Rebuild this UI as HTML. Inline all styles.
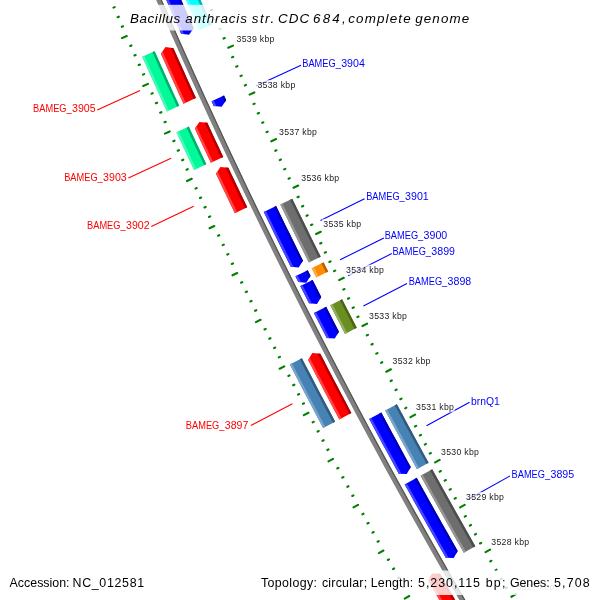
<!DOCTYPE html>
<html><head><meta charset="utf-8"><style>
html,body{margin:0;padding:0;background:#fff;}
svg{display:block;will-change:transform;}
text{font-family:"Liberation Sans",sans-serif;}
.tl{font-size:8.7px;fill:#222222;letter-spacing:0.3px;}
.ll{font-size:11.0px;fill:#ff0000;}
.lr{font-size:11.0px;fill:#0000ff;}
.title{font-size:13.4px;font-style:italic;fill:#000;}
.foot{font-size:12.4px;fill:#000;}
</style></head><body>
<svg width="600" height="600" viewBox="0 0 600 600">
<rect width="600" height="600" fill="#fff"/>
<path d="M502.06,662.34 L491.52,644.62 L481.05,626.87 L470.63,609.07 L460.28,591.25 L450.00,573.38 L439.77,555.48 L429.61,537.54 L419.52,519.57 L409.48,501.56 L399.51,483.51 L389.61,465.43 L379.76,447.32 L369.99,429.17 L360.27,410.98 L350.62,392.77 L341.04,374.51 L331.52,356.23 L322.06,337.91 L312.67,319.56 L303.34,301.17 L294.08,282.75 L284.88,264.30 L275.75,245.82 L266.68,227.31 L257.68,208.76 L248.75,190.18 L239.88,171.57 L231.07,152.93 L222.33,134.26 L213.66,115.55 L205.06,96.82 L196.52,78.06 L188.04,59.26 L179.63,40.44 L171.29,21.59 L163.02,2.70 L154.81,-16.21 L146.67,-35.15 L138.60,-54.12 L133.81,-52.09 L141.89,-33.10 L150.04,-14.15 L158.25,4.78 L166.53,23.68 L174.88,42.55 L183.30,61.39 L191.78,80.20 L200.33,98.98 L208.94,117.73 L217.62,136.45 L226.37,155.14 L235.18,173.80 L244.06,192.43 L253.00,211.02 L262.01,229.58 L271.08,248.12 L280.22,266.61 L289.43,285.08 L298.70,303.52 L308.03,321.92 L317.43,340.29 L326.90,358.62 L336.43,376.92 L346.02,395.19 L355.68,413.43 L365.40,431.63 L375.19,449.79 L385.04,467.92 L394.96,486.02 L404.94,504.08 L414.98,522.10 L425.08,540.09 L435.25,558.05 L445.49,575.97 L455.78,593.85 L466.14,611.69 L476.56,629.50 L487.05,647.27 L497.59,665.01Z" fill="#808080"/>
<path d="M502.06,662.34 L491.52,644.62 L481.05,626.87 L470.63,609.07 L460.28,591.25 L450.00,573.38 L439.77,555.48 L429.61,537.54 L419.52,519.57 L409.48,501.56 L399.51,483.51 L389.61,465.43 L379.76,447.32 L369.99,429.17 L360.27,410.98 L350.62,392.77 L341.04,374.51 L331.52,356.23 L322.06,337.91 L312.67,319.56 L303.34,301.17 L294.08,282.75 L284.88,264.30 L275.75,245.82 L266.68,227.31 L257.68,208.76 L248.75,190.18 L239.88,171.57 L231.07,152.93 L222.33,134.26 L213.66,115.55 L205.06,96.82 L196.52,78.06 L188.04,59.26 L179.63,40.44 L171.29,21.59 L163.02,2.70 L154.81,-16.21 L146.67,-35.15 L138.60,-54.12 L137.49,-53.65 L145.57,-34.68 L153.71,-15.73 L161.92,3.18 L170.20,22.07 L178.54,40.93 L186.95,59.75 L195.42,78.55 L203.96,97.32 L212.57,116.06 L221.25,134.76 L229.99,153.44 L238.79,172.08 L247.66,190.70 L256.60,209.28 L265.60,227.83 L274.67,246.35 L283.81,264.84 L293.01,283.29 L302.27,301.71 L311.60,320.10 L320.99,338.46 L330.45,356.78 L339.97,375.07 L349.56,393.33 L359.21,411.55 L368.93,429.73 L378.71,447.89 L388.55,466.01 L398.46,484.09 L408.43,502.14 L418.47,520.15 L428.57,538.13 L438.73,556.07 L448.96,573.98 L459.24,591.85 L469.60,609.68 L480.01,627.48 L490.49,645.24 L501.03,662.96Z" fill="#555555"/>
<path d="M195.94,98.05 L193.42,92.51 L190.90,86.97 L188.38,81.43 L185.88,75.89 L183.38,70.34 L180.88,64.79 L178.39,59.24 L175.91,53.69 L173.43,48.13 L165.48,47.12 L160.91,53.71 L163.40,59.28 L165.89,64.84 L168.38,70.41 L170.88,75.97 L173.39,81.53 L175.90,87.08 L178.42,92.64 L180.95,98.19 L183.48,103.74Z" fill="#ff0000"/>
<path d="M185.66,102.74 L183.07,97.05 L180.47,91.35 L177.89,85.65 L175.31,79.95 L172.74,74.25 L170.17,68.54 L167.61,62.83 L165.06,57.11 L162.51,51.40 L160.91,53.71 L163.40,59.28 L165.89,64.84 L168.38,70.41 L170.88,75.97 L173.39,81.53 L175.90,87.08 L178.42,92.64 L180.95,98.19 L183.48,103.74Z" fill="#ff4747"/>
<path d="M195.94,98.05 L193.42,92.51 L190.90,86.97 L188.38,81.43 L185.88,75.89 L183.38,70.34 L180.88,64.79 L178.39,59.24 L175.91,53.69 L173.43,48.13 L170.64,47.78 L173.19,53.49 L175.74,59.19 L178.29,64.89 L180.85,70.59 L183.42,76.29 L186.00,81.98 L188.58,87.67 L191.17,93.36 L193.76,99.04Z" fill="#b20000"/>
<path d="M223.22,156.92 L220.56,151.24 L217.90,145.57 L215.25,139.89 L212.60,134.20 L209.96,128.52 L207.33,122.83 L199.37,121.93 L194.89,128.58 L197.53,134.28 L200.18,139.98 L202.83,145.68 L205.49,151.37 L208.16,157.06 L210.83,162.75Z" fill="#ff0000"/>
<path d="M213.00,161.73 L210.62,156.66 L208.25,151.60 L205.88,146.53 L203.52,141.47 L201.16,136.39 L198.81,131.32 L196.46,126.25 L194.89,128.58 L197.53,134.28 L200.18,139.98 L202.83,145.68 L205.49,151.37 L208.16,157.06 L210.83,162.75Z" fill="#ff4747"/>
<path d="M223.22,156.92 L220.56,151.24 L217.90,145.57 L215.25,139.89 L212.60,134.20 L209.96,128.52 L207.33,122.83 L204.54,122.51 L206.88,127.58 L209.23,132.65 L211.59,137.71 L213.95,142.77 L216.31,147.83 L218.68,152.88 L221.05,157.94Z" fill="#b20000"/>
<path d="M247.18,207.25 L244.48,201.62 L241.78,196.00 L239.08,190.37 L236.39,184.73 L233.71,179.10 L231.03,173.46 L228.36,167.82 L220.39,166.98 L215.98,173.67 L218.65,179.33 L221.34,184.98 L224.03,190.63 L226.72,196.27 L229.42,201.92 L232.13,207.56 L234.84,213.19Z" fill="#ff0000"/>
<path d="M237.00,212.15 L234.20,206.33 L231.41,200.50 L228.62,194.68 L225.83,188.84 L223.06,183.01 L220.29,177.17 L217.52,171.33 L215.98,173.67 L218.65,179.33 L221.34,184.98 L224.03,190.63 L226.72,196.27 L229.42,201.92 L232.13,207.56 L234.84,213.19Z" fill="#ff4747"/>
<path d="M247.18,207.25 L244.48,201.62 L241.78,196.00 L239.08,190.37 L236.39,184.73 L233.71,179.10 L231.03,173.46 L228.36,167.82 L225.57,167.53 L228.33,173.36 L231.10,179.19 L233.87,185.02 L236.65,190.84 L239.43,196.66 L242.22,202.48 L245.02,208.29Z" fill="#b20000"/>
<path d="M351.38,413.01 L348.53,407.63 L345.68,402.25 L342.83,396.86 L339.99,391.47 L337.16,386.07 L334.33,380.68 L331.51,375.28 L328.69,369.88 L325.88,364.47 L323.07,359.07 L320.27,353.65 L312.28,353.10 L308.10,359.94 L310.91,365.37 L313.72,370.79 L316.54,376.21 L319.36,381.62 L322.19,387.03 L325.03,392.44 L327.87,397.85 L330.71,403.25 L333.57,408.65 L336.42,414.05 L339.29,419.44Z" fill="#ff0000"/>
<path d="M341.40,418.31 L338.48,412.81 L335.56,407.29 L332.65,401.78 L329.74,396.26 L326.84,390.74 L323.95,385.21 L321.06,379.69 L318.18,374.16 L315.30,368.62 L312.43,363.09 L309.57,357.55 L308.10,359.94 L310.91,365.37 L313.72,370.79 L316.54,376.21 L319.36,381.62 L322.19,387.03 L325.03,392.44 L327.87,397.85 L330.71,403.25 L333.57,408.65 L336.42,414.05 L339.29,419.44Z" fill="#ff4747"/>
<path d="M351.38,413.01 L348.53,407.63 L345.68,402.25 L342.83,396.86 L339.99,391.47 L337.16,386.07 L334.33,380.68 L331.51,375.28 L328.69,369.88 L325.88,364.47 L323.07,359.07 L320.27,353.65 L317.47,353.46 L320.33,358.99 L323.20,364.52 L326.07,370.05 L328.95,375.57 L331.84,381.09 L334.73,386.60 L337.62,392.12 L340.52,397.63 L343.43,403.13 L346.34,408.64 L349.26,414.14Z" fill="#b20000"/>
<path d="M481.24,644.52 L478.04,639.10 L474.84,633.68 L471.65,628.25 L468.47,622.82 L465.30,617.39 L462.12,611.95 L458.96,606.51 L455.80,601.07 L452.65,595.62 L449.50,590.17 L446.36,584.72 L443.22,579.26 L440.09,573.80 L432.08,573.59 L428.20,580.60 L431.34,586.08 L434.48,591.55 L437.63,597.01 L440.79,602.48 L443.95,607.94 L447.11,613.39 L450.29,618.85 L453.46,624.30 L456.65,629.74 L459.84,635.19 L463.03,640.63 L466.23,646.06 L469.44,651.49Z" fill="#ff0000"/>
<path d="M471.51,650.27 L468.25,644.75 L464.99,639.22 L461.74,633.68 L458.49,628.14 L455.25,622.60 L452.02,617.06 L448.79,611.51 L445.57,605.96 L442.36,600.40 L439.15,594.84 L435.95,589.28 L432.75,583.71 L429.56,578.15 L428.20,580.60 L431.34,586.08 L434.48,591.55 L437.63,597.01 L440.79,602.48 L443.95,607.94 L447.11,613.39 L450.29,618.85 L453.46,624.30 L456.65,629.74 L459.84,635.19 L463.03,640.63 L466.23,646.06 L469.44,651.49Z" fill="#ff4747"/>
<path d="M481.24,644.52 L478.04,639.10 L474.84,633.68 L471.65,628.25 L468.47,622.82 L465.30,617.39 L462.12,611.95 L458.96,606.51 L455.80,601.07 L452.65,595.62 L449.50,590.17 L446.36,584.72 L443.22,579.26 L440.09,573.80 L437.29,573.73 L440.47,579.29 L443.66,584.84 L446.86,590.40 L450.07,595.95 L453.28,601.50 L456.49,607.04 L459.71,612.58 L462.94,618.12 L466.17,623.65 L469.41,629.18 L472.66,634.70 L475.91,640.23 L479.17,645.74Z" fill="#b20000"/>
<path d="M179.25,105.79 L176.76,100.33 L174.28,94.88 L171.80,89.42 L169.33,83.96 L166.87,78.50 L164.41,73.03 L161.95,67.56 L159.51,62.09 L157.06,56.62 L154.63,51.15 L142.20,56.67 L144.64,62.16 L147.09,67.64 L149.54,73.13 L152.00,78.61 L154.47,84.08 L156.94,89.56 L159.41,95.03 L161.90,100.50 L164.38,105.97 L166.88,111.44Z" fill="#00fa9a"/>
<path d="M169.06,110.44 L166.57,104.98 L164.08,99.51 L161.60,94.04 L159.13,88.57 L156.66,83.10 L154.19,77.62 L151.73,72.14 L149.28,66.66 L146.83,61.18 L144.39,55.69 L142.20,56.67 L144.64,62.16 L147.09,67.64 L149.54,73.13 L152.00,78.61 L154.47,84.08 L156.94,89.56 L159.41,95.03 L161.90,100.50 L164.38,105.97 L166.88,111.44Z" fill="#47fbb6"/>
<path d="M179.25,105.79 L176.76,100.33 L174.28,94.88 L171.80,89.42 L169.33,83.96 L166.87,78.50 L164.41,73.03 L161.95,67.56 L159.51,62.09 L157.06,56.62 L154.63,51.15 L152.43,52.12 L154.87,57.60 L157.32,63.07 L159.76,68.55 L162.22,74.02 L164.68,79.48 L167.15,84.95 L169.62,90.41 L172.09,95.87 L174.58,101.33 L177.06,106.78Z" fill="#00af6c"/>
<path d="M206.31,164.18 L203.79,158.82 L201.28,153.46 L198.78,148.10 L196.28,142.73 L193.79,137.37 L191.30,132.00 L188.81,126.62 L176.47,132.32 L178.95,137.71 L181.45,143.09 L183.95,148.47 L186.45,153.85 L188.96,159.22 L191.48,164.60 L194.00,169.97Z" fill="#00fa9a"/>
<path d="M196.17,168.94 L193.65,163.58 L191.14,158.21 L188.63,152.83 L186.12,147.46 L183.63,142.08 L181.13,136.70 L178.65,131.32 L176.47,132.32 L178.95,137.71 L181.45,143.09 L183.95,148.47 L186.45,153.85 L188.96,159.22 L191.48,164.60 L194.00,169.97Z" fill="#47fbb6"/>
<path d="M206.31,164.18 L203.79,158.82 L201.28,153.46 L198.78,148.10 L196.28,142.73 L193.79,137.37 L191.30,132.00 L188.81,126.62 L186.64,127.63 L189.12,133.00 L191.61,138.38 L194.10,143.75 L196.60,149.11 L199.11,154.48 L201.62,159.84 L204.13,165.20Z" fill="#00af6c"/>
<path d="M335.14,421.65 L332.34,416.37 L329.54,411.09 L326.75,405.81 L323.97,400.53 L321.19,395.25 L318.42,389.96 L315.65,384.67 L312.89,379.37 L310.13,374.07 L307.38,368.77 L304.64,363.47 L301.90,358.17 L289.81,364.40 L292.56,369.72 L295.31,375.03 L298.07,380.35 L300.83,385.66 L303.60,390.96 L306.37,396.27 L309.15,401.57 L311.93,406.86 L314.72,412.16 L317.52,417.45 L320.32,422.74 L323.13,428.03Z" fill="#4682b4"/>
<path d="M325.24,426.90 L322.44,421.62 L319.64,416.33 L316.85,411.04 L314.06,405.75 L311.27,400.45 L308.50,395.15 L305.72,389.85 L302.96,384.55 L300.19,379.24 L297.44,373.93 L294.69,368.62 L291.94,363.30 L289.81,364.40 L292.56,369.72 L295.31,375.03 L298.07,380.35 L300.83,385.66 L303.60,390.96 L306.37,396.27 L309.15,401.57 L311.93,406.86 L314.72,412.16 L317.52,417.45 L320.32,422.74 L323.13,428.03Z" fill="#7aa5c9"/>
<path d="M335.14,421.65 L332.34,416.37 L329.54,411.09 L326.75,405.81 L323.97,400.53 L321.19,395.25 L318.42,389.96 L315.65,384.67 L312.89,379.37 L310.13,374.07 L307.38,368.77 L304.64,363.47 L301.90,358.17 L299.76,359.27 L302.50,364.57 L305.25,369.88 L308.00,375.18 L310.76,380.48 L313.52,385.78 L316.29,391.07 L319.07,396.36 L321.85,401.65 L324.63,406.93 L327.42,412.22 L330.22,417.50 L333.02,422.77Z" fill="#315b7e"/>
<path d="M193.65,28.14 L191.19,22.59 L188.74,17.03 L186.29,11.47 L183.85,5.90 L181.41,0.34 L178.98,-5.23 L176.55,-10.80 L174.13,-16.38 L171.72,-21.95 L169.31,-27.53 L166.91,-33.11 L164.51,-38.70 L162.12,-44.29 L159.74,-49.87 L157.36,-55.47 L154.99,-61.06 L142.37,-55.72 L144.75,-50.11 L147.13,-44.50 L149.52,-38.90 L151.92,-33.30 L154.32,-27.71 L156.73,-22.11 L159.14,-16.52 L161.56,-10.93 L163.99,-5.34 L166.42,0.24 L168.86,5.82 L171.30,11.40 L173.75,16.98 L176.20,22.55 L178.66,28.13 L181.13,33.70 L189.07,34.70Z" fill="#0000ff"/>
<path d="M183.91,34.05 L181.41,28.40 L178.91,22.75 L176.42,17.09 L173.93,11.44 L171.45,5.78 L168.98,0.11 L166.51,-5.55 L164.05,-11.22 L161.60,-16.89 L159.15,-22.56 L156.71,-28.24 L154.27,-33.91 L151.84,-39.60 L149.41,-45.28 L146.99,-50.96 L144.58,-56.65 L142.37,-55.72 L144.75,-50.11 L147.13,-44.50 L149.52,-38.90 L151.92,-33.30 L154.32,-27.71 L156.73,-22.11 L159.14,-16.52 L161.56,-10.93 L163.99,-5.34 L166.42,0.24 L168.86,5.82 L171.30,11.40 L173.75,16.98 L176.20,22.55 L178.66,28.13 L181.13,33.70Z" fill="#4747ff"/>
<path d="M193.65,28.14 L191.19,22.59 L188.74,17.03 L186.29,11.47 L183.85,5.90 L181.41,0.34 L178.98,-5.23 L176.55,-10.80 L174.13,-16.38 L171.72,-21.95 L169.31,-27.53 L166.91,-33.11 L164.51,-38.70 L162.12,-44.29 L159.74,-49.87 L157.36,-55.47 L154.99,-61.06 L152.78,-60.12 L155.19,-54.44 L157.60,-48.77 L160.02,-43.09 L162.45,-37.42 L164.88,-31.75 L167.32,-26.08 L169.77,-20.42 L172.22,-14.76 L174.68,-9.10 L177.14,-3.44 L179.61,2.21 L182.08,7.86 L184.57,13.51 L187.05,19.16 L189.55,24.80 L192.04,30.44Z" fill="#0000b2"/>
<path d="M226.17,100.16 L224.05,95.55 L211.60,101.27 L213.72,105.88 L221.68,106.78Z" fill="#0000ff"/>
<path d="M216.51,106.20 L215.14,103.23 L213.78,100.26 L211.60,101.27 L213.72,105.88Z" fill="#4747ff"/>
<path d="M226.17,100.16 L224.05,95.55 L221.87,96.55 L223.23,99.52 L224.59,102.48Z" fill="#0000b2"/>
<path d="M302.98,260.73 L300.26,255.26 L297.56,249.79 L294.85,244.32 L292.16,238.85 L289.47,233.37 L286.78,227.89 L284.10,222.41 L281.43,216.92 L278.76,211.44 L276.09,205.94 L263.76,211.92 L266.43,217.42 L269.11,222.92 L271.79,228.42 L274.47,233.91 L277.17,239.41 L279.86,244.90 L282.57,250.38 L285.28,255.87 L287.99,261.35 L290.71,266.83 L298.69,267.48Z" fill="#0000ff"/>
<path d="M293.51,267.06 L290.72,261.45 L287.94,255.84 L285.17,250.23 L282.40,244.62 L279.64,239.00 L276.89,233.38 L274.14,227.76 L271.39,222.13 L268.66,216.50 L265.92,210.87 L263.76,211.92 L266.43,217.42 L269.11,222.92 L271.79,228.42 L274.47,233.91 L277.17,239.41 L279.86,244.90 L282.57,250.38 L285.28,255.87 L287.99,261.35 L290.71,266.83Z" fill="#4747ff"/>
<path d="M302.98,260.73 L300.26,255.26 L297.56,249.79 L294.85,244.32 L292.16,238.85 L289.47,233.37 L286.78,227.89 L284.10,222.41 L281.43,216.92 L278.76,211.44 L276.09,205.94 L273.93,206.99 L276.66,212.61 L279.39,218.23 L282.13,223.85 L284.88,229.47 L287.63,235.08 L290.39,240.69 L293.15,246.29 L295.92,251.90 L298.69,257.50 L301.48,263.09Z" fill="#0000b2"/>
<path d="M310.53,275.86 L307.71,270.21 L295.45,276.34 L298.28,281.99 L306.26,282.63Z" fill="#0000ff"/>
<path d="M301.08,282.22 L299.34,278.74 L297.60,275.26 L295.45,276.34 L298.28,281.99Z" fill="#4747ff"/>
<path d="M310.53,275.86 L307.71,270.21 L305.56,271.29 L307.30,274.76 L309.03,278.23Z" fill="#0000b2"/>
<path d="M321.23,297.10 L318.33,291.36 L315.43,285.62 L312.55,279.88 L300.30,286.02 L303.20,291.78 L306.10,297.54 L309.00,303.29 L316.99,303.89Z" fill="#0000ff"/>
<path d="M311.80,303.50 L309.46,298.87 L307.12,294.23 L304.78,289.59 L302.45,284.95 L300.30,286.02 L303.20,291.78 L306.10,297.54 L309.00,303.29Z" fill="#4747ff"/>
<path d="M321.23,297.10 L318.33,291.36 L315.43,285.62 L312.55,279.88 L310.40,280.95 L312.73,285.59 L315.06,290.22 L317.40,294.85 L319.74,299.48Z" fill="#0000b2"/>
<path d="M338.93,331.79 L336.36,326.79 L333.80,321.80 L331.24,316.80 L328.69,311.79 L326.14,306.79 L313.93,313.00 L316.48,318.01 L319.04,323.03 L321.60,328.04 L324.17,333.05 L326.74,338.06 L334.73,338.61Z" fill="#0000ff"/>
<path d="M329.54,338.25 L326.84,332.99 L324.14,327.72 L321.44,322.45 L318.75,317.18 L316.07,311.91 L313.93,313.00 L316.48,318.01 L319.04,323.03 L321.60,328.04 L324.17,333.05 L326.74,338.06Z" fill="#4747ff"/>
<path d="M338.93,331.79 L336.36,326.79 L333.80,321.80 L331.24,316.80 L328.69,311.79 L326.14,306.79 L324.00,307.88 L326.68,313.14 L329.37,318.40 L332.06,323.66 L334.75,328.92 L337.46,334.18Z" fill="#0000b2"/>
<path d="M410.79,467.06 L407.81,461.63 L404.84,456.19 L401.88,450.75 L398.92,445.30 L395.97,439.86 L393.02,434.41 L390.08,428.95 L387.15,423.50 L384.22,418.04 L381.29,412.58 L369.21,419.03 L372.14,424.51 L375.08,429.98 L378.02,435.45 L380.97,440.92 L383.92,446.38 L386.88,451.84 L389.84,457.29 L392.81,462.75 L395.79,468.20 L398.77,473.65 L406.77,473.98Z" fill="#0000ff"/>
<path d="M401.57,473.76 L398.52,468.19 L395.48,462.62 L392.44,457.04 L389.40,451.46 L386.37,445.88 L383.35,440.29 L380.34,434.70 L377.33,429.10 L374.32,423.50 L371.33,417.90 L369.21,419.03 L372.14,424.51 L375.08,429.98 L378.02,435.45 L380.97,440.92 L383.92,446.38 L386.88,451.84 L389.84,457.29 L392.81,462.75 L395.79,468.20 L398.77,473.65Z" fill="#4747ff"/>
<path d="M410.79,467.06 L407.81,461.63 L404.84,456.19 L401.88,450.75 L398.92,445.30 L395.97,439.86 L393.02,434.41 L390.08,428.95 L387.15,423.50 L384.22,418.04 L381.29,412.58 L379.18,413.71 L382.17,419.30 L385.17,424.89 L388.17,430.48 L391.18,436.06 L394.20,441.64 L397.22,447.21 L400.25,452.79 L403.29,458.36 L406.33,463.92 L409.38,469.48Z" fill="#0000b2"/>
<path d="M457.67,550.93 L454.48,545.33 L451.30,539.72 L448.12,534.12 L444.95,528.51 L441.79,522.89 L438.63,517.27 L435.48,511.65 L432.34,506.02 L429.20,500.40 L426.07,494.76 L422.94,489.13 L419.83,483.49 L416.71,477.85 L404.71,484.46 L407.83,490.11 L410.96,495.77 L414.09,501.41 L417.23,507.06 L420.38,512.70 L423.53,518.34 L426.69,523.98 L429.85,529.61 L433.02,535.24 L436.20,540.86 L439.38,546.48 L442.57,552.10 L445.76,557.71 L453.77,557.92Z" fill="#0000ff"/>
<path d="M448.57,557.79 L445.55,552.49 L442.54,547.18 L439.53,541.88 L436.53,536.57 L433.53,531.25 L430.54,525.94 L427.56,520.62 L424.58,515.30 L421.60,509.97 L418.63,504.64 L415.67,499.31 L412.71,493.98 L409.76,488.64 L406.82,483.30 L404.71,484.46 L407.83,490.11 L410.96,495.77 L414.09,501.41 L417.23,507.06 L420.38,512.70 L423.53,518.34 L426.69,523.98 L429.85,529.61 L433.02,535.24 L436.20,540.86 L439.38,546.48 L442.57,552.10 L445.76,557.71Z" fill="#4747ff"/>
<path d="M457.67,550.93 L454.48,545.33 L451.30,539.72 L448.12,534.12 L444.95,528.51 L441.79,522.89 L438.63,517.27 L435.48,511.65 L432.34,506.02 L429.20,500.40 L426.07,494.76 L422.94,489.13 L419.83,483.49 L416.71,477.85 L414.61,479.00 L417.55,484.34 L420.50,489.67 L423.45,494.99 L426.41,500.32 L429.37,505.64 L432.34,510.95 L435.32,516.27 L438.30,521.58 L441.29,526.89 L444.28,532.19 L447.27,537.49 L450.28,542.79 L453.29,548.09 L456.30,553.38Z" fill="#0000b2"/>
<path d="M211.50,24.74 L208.94,18.96 L206.39,13.19 L203.84,7.41 L201.30,1.63 L198.76,-4.16 L196.23,-9.94 L193.71,-15.73 L191.19,-21.53 L188.68,-27.32 L186.18,-33.12 L183.68,-38.92 L181.19,-44.72 L178.70,-50.53 L176.22,-56.34 L173.75,-62.15 L171.29,-67.96 L159.04,-62.78 L161.51,-56.95 L163.99,-51.12 L166.47,-45.30 L168.96,-39.48 L171.46,-33.67 L173.97,-27.85 L176.48,-22.04 L178.99,-16.23 L181.51,-10.43 L184.04,-4.62 L186.58,1.18 L189.12,6.98 L191.67,12.77 L194.22,18.56 L196.78,24.35 L199.35,30.14Z" fill="#00ffff"/>
<path d="M201.54,29.16 L198.98,23.38 L196.42,17.59 L193.86,11.80 L191.32,6.01 L188.78,0.22 L186.24,-5.58 L183.72,-11.38 L181.19,-17.19 L178.68,-22.99 L176.17,-28.80 L173.67,-34.61 L171.17,-40.43 L168.68,-46.24 L166.20,-52.06 L163.72,-57.89 L161.25,-63.71 L159.04,-62.78 L161.51,-56.95 L163.99,-51.12 L166.47,-45.30 L168.96,-39.48 L171.46,-33.67 L173.97,-27.85 L176.48,-22.04 L178.99,-16.23 L181.51,-10.43 L184.04,-4.62 L186.58,1.18 L189.12,6.98 L191.67,12.77 L194.22,18.56 L196.78,24.35 L199.35,30.14Z" fill="#47ffff"/>
<path d="M211.50,24.74 L208.94,18.96 L206.39,13.19 L203.84,7.41 L201.30,1.63 L198.76,-4.16 L196.23,-9.94 L193.71,-15.73 L191.19,-21.53 L188.68,-27.32 L186.18,-33.12 L183.68,-38.92 L181.19,-44.72 L178.70,-50.53 L176.22,-56.34 L173.75,-62.15 L171.29,-67.96 L169.08,-67.03 L171.54,-61.21 L174.02,-55.40 L176.50,-49.59 L178.98,-43.78 L181.48,-37.97 L183.97,-32.17 L186.48,-26.37 L188.99,-20.57 L191.51,-14.77 L194.03,-8.98 L196.56,-3.19 L199.10,2.59 L201.64,8.38 L204.19,14.16 L206.75,19.94 L209.31,25.71Z" fill="#00b2b2"/>
<path d="M320.73,256.67 L318.12,251.42 L315.51,246.16 L312.90,240.89 L310.30,235.63 L307.71,230.36 L305.12,225.09 L302.53,219.81 L299.95,214.54 L297.38,209.26 L294.81,203.98 L292.25,198.69 L280.28,204.49 L282.85,209.79 L285.42,215.08 L288.00,220.37 L290.59,225.66 L293.18,230.95 L295.77,236.23 L298.37,241.51 L300.98,246.79 L303.59,252.06 L306.21,257.34 L308.83,262.61Z" fill="#6e6e6e"/>
<path d="M310.98,261.54 L308.36,256.27 L305.74,251.00 L303.13,245.72 L300.53,240.45 L297.93,235.17 L295.33,229.89 L292.74,224.61 L290.16,219.32 L287.58,214.03 L285.01,208.74 L282.44,203.45 L280.28,204.49 L282.85,209.79 L285.42,215.08 L288.00,220.37 L290.59,225.66 L293.18,230.95 L295.77,236.23 L298.37,241.51 L300.98,246.79 L303.59,252.06 L306.21,257.34 L308.83,262.61Z" fill="#979797"/>
<path d="M320.73,256.67 L318.12,251.42 L315.51,246.16 L312.90,240.89 L310.30,235.63 L307.71,230.36 L305.12,225.09 L302.53,219.81 L299.95,214.54 L297.38,209.26 L294.81,203.98 L292.25,198.69 L290.09,199.74 L292.65,205.03 L295.22,210.31 L297.80,215.59 L300.38,220.87 L302.96,226.15 L305.55,231.42 L308.15,236.69 L310.75,241.96 L313.36,247.22 L315.97,252.48 L318.59,257.74Z" fill="#4d4d4d"/>
<path d="M328.21,271.62 L325.88,266.98 L323.57,262.35 L311.67,268.29 L313.99,272.94 L316.32,277.58Z" fill="#ff8c00"/>
<path d="M318.46,276.50 L316.14,271.86 L313.81,267.22 L311.67,268.29 L313.99,272.94 L316.32,277.58Z" fill="#ffac47"/>
<path d="M328.21,271.62 L325.88,266.98 L323.57,262.35 L321.42,263.42 L323.74,268.06 L326.06,272.69Z" fill="#b26200"/>
<path d="M356.79,327.82 L354.33,323.04 L351.88,318.27 L349.43,313.49 L346.98,308.70 L344.54,303.92 L342.11,299.13 L330.25,305.16 L332.69,309.96 L335.14,314.75 L337.59,319.55 L340.05,324.34 L342.50,329.13 L344.97,333.91Z" fill="#6b8e23"/>
<path d="M347.10,332.81 L344.64,328.03 L342.18,323.24 L339.73,318.45 L337.28,313.66 L334.83,308.87 L332.39,304.07 L330.25,305.16 L332.69,309.96 L335.14,314.75 L337.59,319.55 L340.05,324.34 L342.50,329.13 L344.97,333.91Z" fill="#94ae61"/>
<path d="M356.79,327.82 L354.33,323.04 L351.88,318.27 L349.43,313.49 L346.98,308.70 L344.54,303.92 L342.11,299.13 L339.97,300.22 L342.40,305.01 L344.85,309.80 L347.29,314.58 L349.74,319.36 L352.20,324.14 L354.66,328.92Z" fill="#4b6318"/>
<path d="M428.61,462.75 L425.70,457.44 L422.79,452.13 L419.88,446.81 L416.99,441.48 L414.09,436.16 L411.21,430.83 L408.33,425.50 L405.45,420.16 L402.58,414.83 L399.71,409.49 L396.86,404.14 L385.13,410.41 L387.99,415.77 L390.86,421.12 L393.74,426.47 L396.62,431.82 L399.51,437.16 L402.40,442.50 L405.30,447.84 L408.21,453.17 L411.12,458.50 L414.03,463.83 L416.96,469.16Z" fill="#4682b4"/>
<path d="M419.06,468.00 L416.14,462.68 L413.22,457.35 L410.31,452.02 L407.41,446.69 L404.51,441.36 L401.62,436.02 L398.73,430.68 L395.85,425.33 L392.98,419.98 L390.11,414.63 L387.24,409.28 L385.13,410.41 L387.99,415.77 L390.86,421.12 L393.74,426.47 L396.62,431.82 L399.51,437.16 L402.40,442.50 L405.30,447.84 L408.21,453.17 L411.12,458.50 L414.03,463.83 L416.96,469.16Z" fill="#7aa5c9"/>
<path d="M428.61,462.75 L425.70,457.44 L422.79,452.13 L419.88,446.81 L416.99,441.48 L414.09,436.16 L411.21,430.83 L408.33,425.50 L405.45,420.16 L402.58,414.83 L399.71,409.49 L396.86,404.14 L394.74,405.27 L397.60,410.62 L400.46,415.96 L403.34,421.30 L406.21,426.64 L409.10,431.97 L411.98,437.30 L414.88,442.63 L417.78,447.95 L420.68,453.28 L423.59,458.59 L426.51,463.91Z" fill="#315b7e"/>
<path d="M475.34,546.20 L472.22,540.73 L469.11,535.25 L466.00,529.77 L462.90,524.29 L459.81,518.81 L456.72,513.32 L453.63,507.83 L450.56,502.34 L447.48,496.84 L444.42,491.34 L441.36,485.84 L438.31,480.33 L435.26,474.82 L432.22,469.30 L420.57,475.72 L423.62,481.25 L426.67,486.77 L429.73,492.29 L432.80,497.81 L435.87,503.32 L438.95,508.83 L442.03,514.34 L445.12,519.84 L448.22,525.34 L451.32,530.84 L454.43,536.33 L457.55,541.82 L460.67,547.31 L463.79,552.79Z" fill="#6e6e6e"/>
<path d="M465.88,551.60 L462.75,546.12 L459.63,540.64 L456.52,535.15 L453.41,529.66 L450.31,524.16 L447.22,518.67 L444.13,513.16 L441.04,507.66 L437.97,502.15 L434.89,496.64 L431.83,491.13 L428.77,485.61 L425.72,480.09 L422.67,474.56 L420.57,475.72 L423.62,481.25 L426.67,486.77 L429.73,492.29 L432.80,497.81 L435.87,503.32 L438.95,508.83 L442.03,514.34 L445.12,519.84 L448.22,525.34 L451.32,530.84 L454.43,536.33 L457.55,541.82 L460.67,547.31 L463.79,552.79Z" fill="#979797"/>
<path d="M475.34,546.20 L472.22,540.73 L469.11,535.25 L466.00,529.77 L462.90,524.29 L459.81,518.81 L456.72,513.32 L453.63,507.83 L450.56,502.34 L447.48,496.84 L444.42,491.34 L441.36,485.84 L438.31,480.33 L435.26,474.82 L432.22,469.30 L430.11,470.46 L433.16,475.98 L436.21,481.49 L439.26,487.00 L442.32,492.51 L445.39,498.01 L448.46,503.51 L451.54,509.01 L454.63,514.50 L457.72,519.99 L460.81,525.48 L463.92,530.96 L467.02,536.44 L470.14,541.91 L473.26,547.39Z" fill="#4d4d4d"/>
<path d="M462.05,686.23L457.58,688.90M537.60,641.12L542.07,638.45M457.13,676.99L456.01,677.66M531.90,632.53L533.02,631.86M451.79,668.00L450.67,668.67M526.64,623.67L527.76,623.00M446.47,659.00L445.35,659.66M521.40,614.80L522.52,614.14M441.16,649.99L440.04,650.65M516.17,605.92L517.30,605.26M435.44,641.22L430.95,643.85M511.40,596.78L515.88,594.15M430.60,631.94L429.48,632.60M505.77,588.14L506.89,587.48M425.34,622.90L424.22,623.55M500.59,579.23L501.71,578.58M420.10,613.85L418.98,614.50M495.43,570.32L496.55,569.67M414.88,604.80L413.75,605.45M490.28,561.39L491.41,560.75M409.24,595.98L404.73,598.56M485.58,552.21L490.09,549.63M404.48,586.65L403.35,587.30M480.03,543.52L481.16,542.87M399.30,577.57L398.17,578.21M474.93,534.57L476.06,533.93M394.14,568.47L393.01,569.11M469.85,525.61L470.98,524.97M389.00,559.37L387.87,560.01M464.78,516.64L465.91,516.00M383.44,550.50L378.90,553.05M460.17,507.42L464.70,504.87M378.76,541.14L377.63,541.77M454.69,498.67L455.83,498.04M373.66,532.01L372.53,532.64M449.67,489.68L450.81,489.05M368.59,522.87L367.45,523.50M444.67,480.67L445.81,480.04M363.52,513.72L362.38,514.35M439.68,471.66L440.82,471.03M358.04,504.80L353.48,507.31M435.15,462.40L439.70,459.89M353.45,495.39L352.31,496.02M429.75,453.61L430.89,452.98M348.43,486.22L347.29,486.84M424.81,444.57L425.96,443.94M343.43,477.03L342.29,477.65M419.89,435.52L421.03,434.90M338.45,467.84L337.31,468.46M414.98,426.46L416.13,425.84M333.05,458.87L328.47,461.34M410.53,417.16L415.11,414.69M328.54,449.43L327.39,450.04M405.22,408.32L406.36,407.70M323.61,440.21L322.46,440.82M400.36,399.23L401.50,398.62M318.69,430.98L317.54,431.59M395.51,390.14L396.66,389.53M313.79,421.74L312.64,422.35M390.69,381.04L391.83,380.43M308.47,412.73L303.87,415.15M386.32,371.70L390.92,369.28M304.04,403.24L302.89,403.84M381.08,362.81L382.23,362.21M299.19,393.98L298.04,394.58M376.30,353.69L377.45,353.09M294.36,384.70L293.20,385.30M371.54,344.55L372.69,343.95M289.54,375.42L288.39,376.02M366.79,335.41L367.95,334.81M284.29,366.36L279.67,368.75M362.51,326.03L367.13,323.65M279.95,356.84L278.80,357.43M357.35,317.10L358.51,316.50M275.19,347.53L274.03,348.12M352.65,307.93L353.81,307.34M270.44,338.22L269.28,338.81M347.97,298.75L349.13,298.16M265.70,328.89L264.54,329.48M343.31,289.57L344.47,288.98M260.54,319.79L255.89,322.13M339.10,280.15L343.75,277.81M256.28,310.22L255.12,310.81M334.03,271.17L335.19,270.59M251.60,300.87L250.43,301.46M329.41,261.96L330.57,261.38M246.93,291.52L245.76,292.10M324.81,252.75L325.97,252.17M242.28,282.15L241.11,282.73M320.23,243.52L321.39,242.94M237.19,273.00L232.53,275.30M316.11,234.06L320.77,231.76M233.02,263.40L231.86,263.97M311.11,225.04L312.28,224.47M228.42,254.01L227.25,254.58M306.58,215.79L307.74,215.22M223.84,244.61L222.67,245.18M302.06,206.53L303.23,205.96M219.27,235.21L218.10,235.78M297.56,197.27L298.73,196.70M214.27,226.01L209.58,228.27M293.52,187.78L298.21,185.52M210.18,216.37L209.01,216.94M288.61,178.71L289.78,178.15M205.66,206.94L204.49,207.50M284.15,169.42L285.33,168.86M201.16,197.51L199.99,198.06M279.72,160.12L280.89,159.56M196.68,188.06L195.50,188.62M275.30,150.82L276.48,150.26M191.76,178.82L187.05,181.04M271.35,141.29L276.05,139.07M187.76,169.14L186.58,169.70M266.51,132.18L267.69,131.63M183.32,159.68L182.15,160.23M262.15,122.85L263.32,122.30M178.91,150.20L177.73,150.75M257.79,113.51L258.97,112.96M174.50,140.71L173.33,141.26M253.46,104.17L254.64,103.62M169.67,131.43L164.94,133.60M249.59,94.61L254.32,92.43M165.75,121.72L164.57,122.26M244.84,85.45L246.02,84.91M161.40,112.21L160.22,112.75M240.55,76.09L241.73,75.55M157.07,102.69L155.89,103.23M236.28,66.71L237.46,66.17M152.75,93.17L151.57,93.71M232.03,57.33L233.21,56.79M148.00,83.84L143.26,85.98M228.25,47.73L232.99,45.60M144.17,74.10L142.99,74.63M223.57,38.54L224.76,38.01M139.91,64.55L138.72,65.08M219.37,29.13L220.56,28.60M135.66,55.00L134.47,55.53M215.19,19.72L216.37,19.19M131.43,45.44L130.24,45.96M211.02,10.30L212.21,9.78M126.76,36.07L121.99,38.16M123.02,26.29L121.82,26.81M118.84,16.71L117.64,17.23M114.67,7.12L113.48,7.63M110.53,-2.48L109.33,-1.97M105.94,-11.89L101.16,-9.84M102.28,-21.70L101.09,-21.19M98.19,-31.32L96.99,-30.82" stroke="#008000" stroke-width="2.1" stroke-linecap="round" fill="none"/>
<path d="M140.06,90.57L97.21,109.88M171.04,158.19L128.44,178.03M193.71,206.27L151.28,226.50M292.43,403.71L250.80,425.51" stroke="#ff0000" stroke-width="1.1" fill="none"/>
<path d="M256.50,85.70L301.03,65.24M320.53,220.41L364.52,198.81M340.09,259.84L383.90,237.90M348.03,275.64L391.78,253.57M363.41,305.90L407.02,283.57M426.49,425.67L469.58,402.33M467.38,499.83L510.11,475.86" stroke="#0000ff" stroke-width="1.1" fill="none"/>
<rect x="235.60" y="34.00" width="39.6" height="10.6" fill="#fff" fill-opacity="0.7"/>
<text x="236.60" y="41.9" class="tl">3539 kbp</text>
<rect x="256.40" y="80.00" width="39.6" height="10.6" fill="#fff" fill-opacity="0.7"/>
<text x="257.40" y="87.9" class="tl">3538 kbp</text>
<rect x="278.10" y="126.90" width="39.6" height="10.6" fill="#fff" fill-opacity="0.7"/>
<text x="279.10" y="134.8" class="tl">3537 kbp</text>
<rect x="300.30" y="173.00" width="39.6" height="10.6" fill="#fff" fill-opacity="0.7"/>
<text x="301.30" y="180.9" class="tl">3536 kbp</text>
<rect x="322.30" y="218.90" width="39.6" height="10.6" fill="#fff" fill-opacity="0.7"/>
<text x="323.30" y="226.8" class="tl">3535 kbp</text>
<rect x="345.05" y="264.60" width="39.6" height="10.6" fill="#fff" fill-opacity="0.7"/>
<text x="346.05" y="272.5" class="tl">3534 kbp</text>
<rect x="368.10" y="310.80" width="39.6" height="10.6" fill="#fff" fill-opacity="0.7"/>
<text x="369.10" y="318.7" class="tl">3533 kbp</text>
<rect x="391.50" y="355.80" width="39.6" height="10.6" fill="#fff" fill-opacity="0.7"/>
<text x="392.50" y="363.7" class="tl">3532 kbp</text>
<rect x="415.10" y="401.80" width="39.6" height="10.6" fill="#fff" fill-opacity="0.7"/>
<text x="416.10" y="409.7" class="tl">3531 kbp</text>
<rect x="440.10" y="446.80" width="39.6" height="10.6" fill="#fff" fill-opacity="0.7"/>
<text x="441.10" y="454.7" class="tl">3530 kbp</text>
<rect x="465.10" y="491.95" width="39.6" height="10.6" fill="#fff" fill-opacity="0.7"/>
<text x="466.10" y="499.85" class="tl">3529 kbp</text>
<rect x="490.30" y="536.80" width="39.6" height="10.6" fill="#fff" fill-opacity="0.7"/>
<text x="491.30" y="544.7" class="tl">3528 kbp</text>
<rect x="515.40" y="581.60" width="39.6" height="10.6" fill="#fff" fill-opacity="0.7"/>
<text x="516.40" y="589.5" class="tl" fill-opacity="0.55">3527 kbp</text>
<text transform="translate(33.11,112.4) scale(0.842,1)" class="ll">BAMEG_</text>
<text transform="translate(72.07,112.4) scale(0.966,1)" class="ll">3905</text>
<text transform="translate(64.16,180.7) scale(0.842,1)" class="ll">BAMEG_</text>
<text transform="translate(103.12,180.7) scale(0.966,1)" class="ll">3903</text>
<text transform="translate(87.06,229.2) scale(0.842,1)" class="ll">BAMEG_</text>
<text transform="translate(126.02,229.2) scale(0.966,1)" class="ll">3902</text>
<text transform="translate(185.86,428.6) scale(0.842,1)" class="ll">BAMEG_</text>
<text transform="translate(224.82,428.6) scale(0.966,1)" class="ll">3897</text>
<text transform="translate(302.26,66.9) scale(0.842,1)" class="lr">BAMEG_</text>
<text transform="translate(341.22,66.9) scale(0.966,1)" class="lr">3904</text>
<text transform="translate(366.16,199.8) scale(0.842,1)" class="lr">BAMEG_</text>
<text transform="translate(405.12,199.8) scale(0.966,1)" class="lr">3901</text>
<text transform="translate(384.66,238.75) scale(0.842,1)" class="lr">BAMEG_</text>
<text transform="translate(423.62,238.75) scale(0.966,1)" class="lr">3900</text>
<text transform="translate(392.41,254.5) scale(0.842,1)" class="lr">BAMEG_</text>
<text transform="translate(431.37,254.5) scale(0.966,1)" class="lr">3899</text>
<text transform="translate(408.66,284.5) scale(0.842,1)" class="lr">BAMEG_</text>
<text transform="translate(447.62,284.5) scale(0.966,1)" class="lr">3898</text>
<text transform="translate(471.00,404.7) scale(0.94,1)" class="lr">brnQ1</text>
<text transform="translate(511.56,477.75) scale(0.842,1)" class="lr">BAMEG_</text>
<text transform="translate(550.52,477.75) scale(0.966,1)" class="lr">3895</text>
<rect x="127" y="4.8" width="346" height="25.7" fill="#ffffff" fill-opacity="0.8"/>
<rect x="257" y="570.5" width="336" height="24.5" fill="#ffffff" fill-opacity="0.8"/>
<rect x="6" y="570.5" width="141" height="24.5" fill="#ffffff" fill-opacity="0.8"/>
<text x="130.1" y="22.8" class="title" style="letter-spacing:0.564px">Bacillus</text>
<text x="185.35" y="22.8" class="title" style="letter-spacing:0.906px">anthracis</text>
<text x="251.7" y="22.8" class="title" style="letter-spacing:1.5px">str.</text>
<text x="278.0" y="22.8" class="title" style="letter-spacing:1.1px">CDC</text>
<text x="313.0" y="22.8" class="title" style="letter-spacing:2.233px">684,</text>
<text x="348.25" y="22.8" class="title" style="letter-spacing:1.143px">complete</text>
<text x="415.25" y="22.8" class="title" style="letter-spacing:1.11px">genome</text>
<text x="9.6" y="586.8" class="foot" style="letter-spacing:0.006px">Accession:</text>
<text x="72.5" y="586.8" class="foot" style="letter-spacing:0.688px">NC_012581</text>
<text x="260.95" y="586.8" class="foot" style="letter-spacing:0.381px">Topology:</text>
<text x="321.9" y="586.8" class="foot" style="letter-spacing:0.231px">circular;</text>
<text x="370.7" y="586.8" class="foot" style="letter-spacing:0.208px">Length:</text>
<text x="418.1" y="586.8" class="foot" style="letter-spacing:0.956px">5,230,115</text>
<text x="485.65" y="586.8" class="foot" style="letter-spacing:1.25px">bp;</text>
<text x="509.9" y="586.8" class="foot" style="letter-spacing:-0.03px">Genes:</text>
<text x="554.0" y="586.8" class="foot" style="letter-spacing:1.175px">5,708</text>
</svg></body></html>
